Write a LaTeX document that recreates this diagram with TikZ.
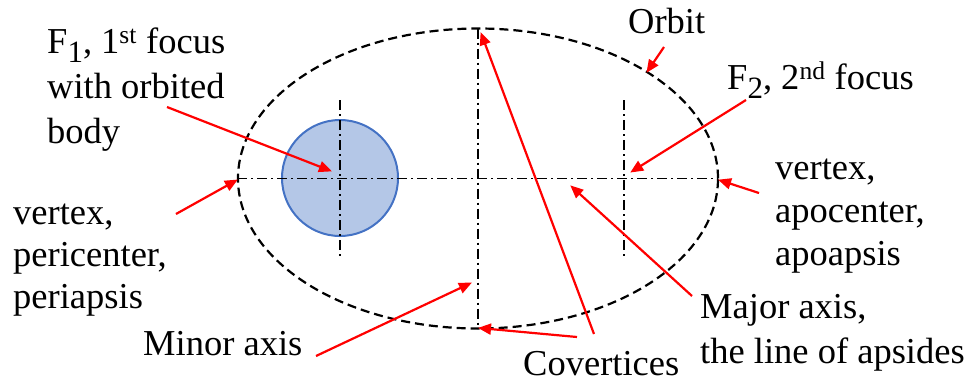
\documentclass[tikz,border=0pt]{standalone}
\usepackage{fontspec}
\setmainfont{Liberation Serif}
\usetikzlibrary{arrows.meta}
\definecolor{bodyfill}{HTML}{B4C7E7}
\definecolor{bodyline}{HTML}{4472C4}
\tikzset{
  lbl/.style={anchor=base west, inner sep=0pt, align=left, font=\fontsize{36.5}{44}\selectfont},
  redarrow/.style={draw=red, line width=2.2pt, -{Triangle[length=13pt,width=11pt]}, shorten >=-1pt},
  orbitline/.style={draw=black, line width=2.2pt, dash pattern=on 9pt off 5pt},
  axisline/.style={draw=black, line width=1.2pt, dash pattern=on 10pt off 4pt on 2pt off 4pt},
}
\newcommand{\subone}{\raisebox{-0.25em}{\fontsize{31}{31}\selectfont 1}}
\newcommand{\subtwo}{\raisebox{-0.25em}{\fontsize{31}{31}\selectfont 2}}
\begin{document}
\begin{tikzpicture}[x=1pt,y=-1pt]
\useasboundingbox (0,0) rectangle (976,381);
% body
\node[circle, minimum size=116pt, inner sep=0pt, fill=bodyfill, draw=bodyline, line width=2pt] (body) at (340,178) {};
% orbit
\draw[orbitline] (478,178.5) ellipse [x radius=240pt, y radius=150pt];
% axes
\coordinate (peri) at (237,178.5);
\coordinate (apo) at (718,178.5);
\coordinate (ctop) at (478,28.5);
\coordinate (cbot) at (478,328.5);
\coordinate (f1top) at (340,100);
\coordinate (f1bot) at (340,258);
\coordinate (f2top) at (624,100);
\coordinate (f2bot) at (624,257);
\draw[axisline] (peri) -- (apo);
\draw[axisline] (ctop) -- (cbot);
\draw[axisline] (f1top) -- (f1bot);
\draw[axisline] (f2top) -- (f2bot);
% labels (base = baseline of last line)
\node[lbl, font=\fontsize{36.5}{45}\selectfont] (f1lab) at (47,143) {F\subone, 1\textsuperscript{st} focus\\with orbited\\body};
\node[lbl] (orblab) at (628,33) {Orbit};
\node[lbl] (f2lab) at (727,89) {F\subtwo, 2\textsuperscript{nd} focus};
\node[lbl, font=\fontsize{36.5}{43}\selectfont] (apolab) at (775,265) {vertex,\\apocenter,\\apoapsis};
\node[lbl, font=\fontsize{36.5}{42}\selectfont] (perilab) at (13,308) {vertex,\\pericenter,\\periapsis};
\node[lbl] (minlab) at (143,355) {Minor axis};
\node[lbl] (covlab) at (523,375) {Covertices};
\node[lbl, font=\fontsize{36.5}{45}\selectfont] (majlab) at (700,363) {Major axis,\\the line of apsides};
% arrow ends
\coordinate (f1s) at (167,107);  \coordinate (f1e) at (331,171);
\coordinate (peris) at (176,214); \coordinate (perie) at (237,180);
\coordinate (mins) at (316,356); \coordinate (mine) at (471,283);
\coordinate (covsa) at (577,337); \coordinate (covea) at (479,328);
\coordinate (covsb) at (594,334); \coordinate (coveb) at (481,33);
\coordinate (majs) at (692,296); \coordinate (maje) at (571,186);
\coordinate (apos) at (759,193); \coordinate (apoe) at (719,180);
\coordinate (f2s) at (746,100);  \coordinate (f2e) at (631,172);
\coordinate (orbs) at (664,47);  \coordinate (orbe) at (647,72);
\draw[redarrow] (f1s) -- (f1e);
\draw[redarrow] (peris) -- (perie);
\draw[redarrow] (mins) -- (mine);
\draw[redarrow] (covsa) -- (covea);
\draw[redarrow] (covsb) -- (coveb);
\draw[redarrow] (majs) -- (maje);
\draw[redarrow] (apos) -- (apoe);
\draw[redarrow] (f2s) -- (f2e);
\draw[redarrow] (orbs) -- (orbe);
\end{tikzpicture}
\end{document}
